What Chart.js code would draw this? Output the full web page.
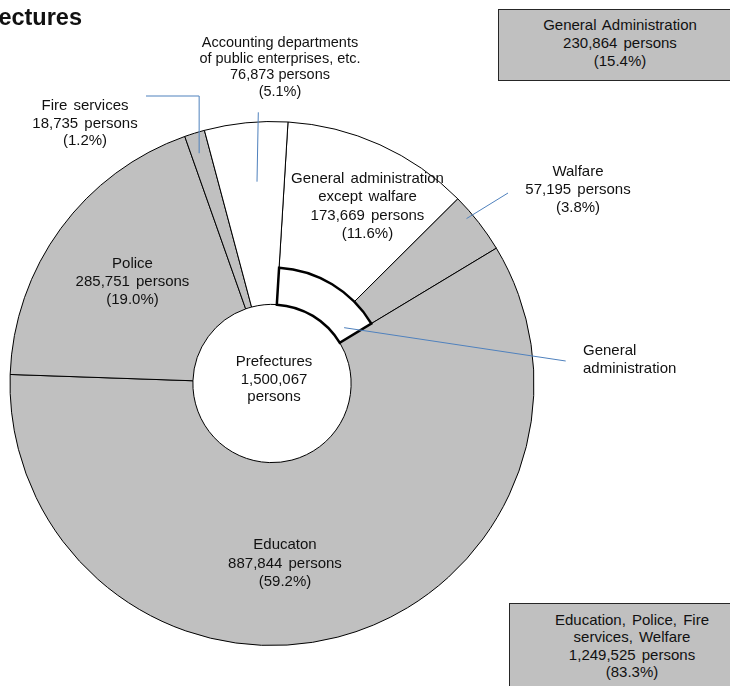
<!DOCTYPE html>
<html>
<head>
<meta charset="utf-8">
<script src="https://cdn.jsdelivr.net/npm/chart.js@4.4.1/dist/chart.umd.min.js"></script>
<style>
html, body { margin: 0; padding: 0; background: #fff; }
#wrap { position: relative; width: 730px; height: 686px; overflow: hidden; font-family: "Liberation Sans", Arial, sans-serif; color: #111; }
canvas { position: absolute; left: 0; top: 0; }
.lbl { position: absolute; white-space: nowrap; text-align: center; font-size: 15px; line-height: 18px; transform: translateX(-50%); word-spacing: 2px; }
.box { position: absolute; background: #c0c0c0; border: 1.5px solid #262626; box-sizing: border-box; }
#title { position: absolute; right: 648px; top: 3px; font-weight: bold; font-size: 23.5px; line-height: 28px; white-space: nowrap; }
</style>
</head>
<body>
<div id="wrap">
  <canvas id="ringChart" width="730" height="686"></canvas>
  <canvas id="wedgeChart" width="730" height="686"></canvas>
  <div id="title">Prefectures</div>
  <div class="box" style="left:498px; top:9px; width:234px; height:72px;"></div>
  <div class="box" style="left:509px; top:603px; width:230px; height:100px;"></div>
</div>
<script>
// data
var categories = ['General administration|except walfare', 'Walfare', 'Educaton', 'Police', 'Fire services', 'Accounting departments|of public enterprises, etc.'];
var persons = [173669, 57195, 887844, 285751, 18735, 76873];
var totalName = 'Prefectures';
var groupNames = ['General Administration', 'Education, Police, Fire|services, Welfare'];
var groupMembers = [[0, 1], [1, 2, 3, 4]];
var wedgeName = 'General|administration';

var sliceColors = ['#ffffff', '#c0c0c0', '#c0c0c0', '#c0c0c0', '#c0c0c0', '#ffffff'];

var total = persons.reduce(function (a, b) { return a + b; }, 0);
var groupSums = groupMembers.map(function (m) {
    return m.reduce(function (s, i) { return s + persons[i]; }, 0);
});

function fmt(n) { return n.toLocaleString('en-US'); }
function pct(n) { return '(' + (n / total * 100).toFixed(1) + '%)'; }
function labelLines(name, n) { return name.split('|').concat([fmt(n) + ' persons', pct(n)]); }

var wrap = document.getElementById('wrap');
function addLabel(lines, pos) {
    var d = document.createElement('div');
    d.className = 'lbl';
    d.innerHTML = lines.join('<br>');
    d.style.left = pos.x + 'px';
    d.style.top = pos.y + 'px';
    if (pos.lh) d.style.lineHeight = pos.lh + 'px';
    if (pos.fs) d.style.fontSize = pos.fs + 'px';
    if (pos.ws !== undefined) d.style.wordSpacing = pos.ws + 'px';
    if (pos.left) { d.style.transform = 'none'; d.style.textAlign = 'left'; }
    wrap.appendChild(d);
}

var sliceLabelPos = [
    { x: 367.5, y: 169, lh: 18.3 },
    { x: 578, y: 161.7, lh: 18 },
    { x: 285, y: 535, lh: 18.5 },
    { x: 132.5, y: 253.5, lh: 18.3 },
    { x: 85, y: 96, lh: 17.5 },
    { x: 280, y: 33.5, lh: 16.4, fs: 14.5, ws: 0 }
];
categories.forEach(function (c, i) { addLabel(labelLines(c, persons[i]), sliceLabelPos[i]); });
addLabel([totalName, fmt(total), 'persons'], { x: 274, y: 352, lh: 17.5 });
addLabel(labelLines(groupNames[0], groupSums[0]), { x: 620, y: 16, lh: 17.8 });
addLabel(labelLines(groupNames[1], groupSums[1]), { x: 632, y: 610.5, lh: 17.5 });
addLabel(wedgeName.split('|'), { x: 583, y: 341, lh: 17.7, left: true });

var ROT = 3.5;
var PAD = { left: 0, right: 186, top: 81, bottom: 0 };

function leaderPlugin(list) {
    return {
        id: 'leaders',
        afterDatasetsDraw: function (chart) {
            var arcs = chart.getDatasetMeta(0).data;
            var ctx = chart.ctx;
            ctx.save();
            ctx.strokeStyle = '#4f81bd';
            ctx.lineWidth = 1;
            list.forEach(function (ld) {
                var a = arcs[ld.idx];
                var ang = a.startAngle + ld.t * (a.endAngle - a.startAngle);
                var r = a.innerRadius + ld.f * (a.outerRadius - a.innerRadius);
                var x0 = a.x + r * Math.cos(ang), y0 = a.y + r * Math.sin(ang);
                ctx.beginPath();
                ctx.moveTo(x0, y0);
                if (ld.elbowY !== undefined) {
                    ctx.lineTo(x0, ld.elbowY);
                    ctx.lineTo(ld.toX, ld.elbowY);
                } else {
                    ctx.lineTo(ld.to[0], ld.to[1]);
                }
                ctx.stroke();
            });
            ctx.restore();
        }
    };
}

new Chart(document.getElementById('ringChart'), {
    type: 'doughnut',
    data: {
        labels: categories,
        datasets: [{
            data: persons,
            backgroundColor: sliceColors,
            borderColor: '#000',
            borderWidth: 1,
            borderJoinStyle: 'miter'
        }]
    },
    options: {
        responsive: false,
        animation: false,
        rotation: ROT,
        radius: 262,
        cutout: '30.2%',
        layout: { padding: PAD },
        plugins: { legend: { display: false }, tooltip: { enabled: false } }
    },
    plugins: [leaderPlugin([
        { idx: 1, t: 0.33, f: 0.962, to: [508, 193] },
        { idx: 4, t: 0.42, f: 0.888, elbowY: 96, toX: 146 },
        { idx: 5, t: 0.58, f: 0.674, to: [258.3, 112.3] }
    ])]
});

new Chart(document.getElementById('wedgeChart'), {
    type: 'doughnut',
    data: {
        labels: [groupNames[0], 'rest'],
        datasets: [{
            data: [groupSums[0], total - groupSums[0]],
            backgroundColor: ['#ffffff', 'rgba(0,0,0,0)'],
            borderColor: ['#000', 'rgba(0,0,0,0)'],
            borderWidth: [2.5, 0],
            borderJoinStyle: 'miter'
        }]
    },
    options: {
        responsive: false,
        animation: false,
        rotation: ROT,
        radius: 116,
        cutout: '68.1%',
        layout: { padding: PAD },
        plugins: { legend: { display: false }, tooltip: { enabled: false } }
    },
    plugins: [leaderPlugin([
        { idx: 0, t: 0.88, f: 0.33, to: [565.7, 361] }
    ])]
});
</script>
</body>
</html>
